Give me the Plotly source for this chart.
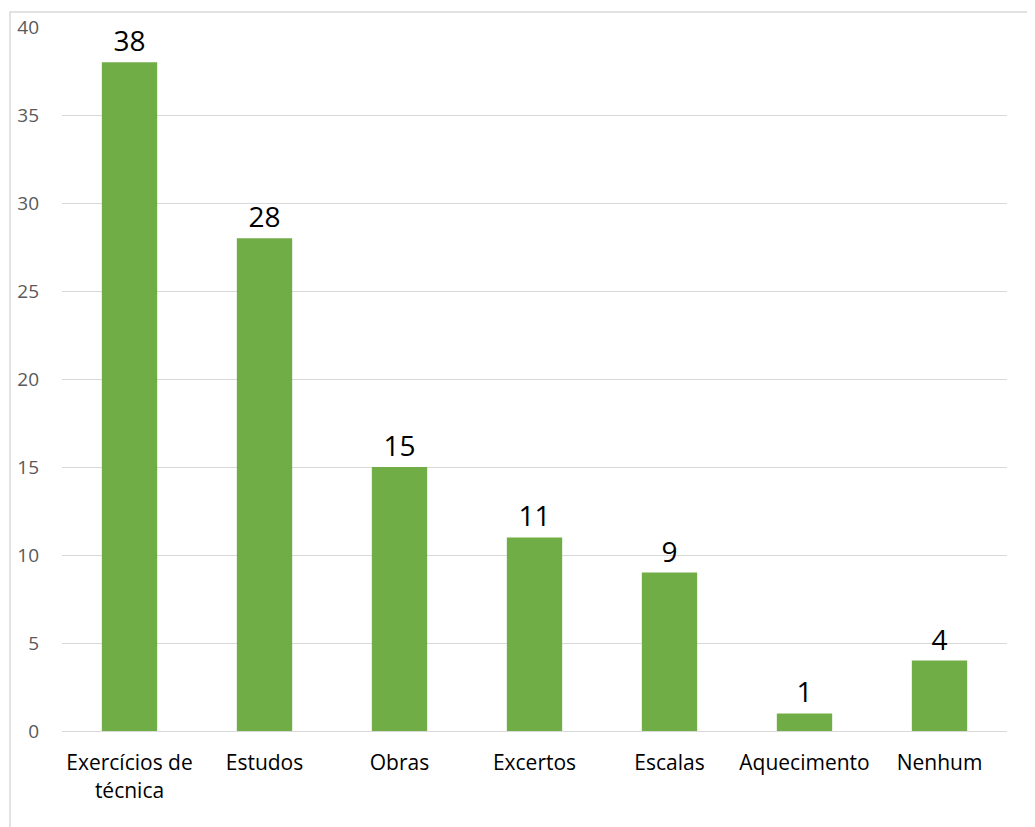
import plotly.graph_objects as go

categories = ["Exercícios de<br>técnica", "Estudos", "Obras", "Excertos", "Escalas", "Aquecimento", "Nenhum"]
values = [38, 28, 15, 11, 9, 1, 4]
y_ticks = [0, 5, 10, 15, 20, 25, 30, 35, 40]

FONT = "Open Sans, sans-serif"

fig = go.Figure(go.Bar(
    x=categories, y=values,
    marker=dict(color="#70AD47", line=dict(width=0)),
    text=[str(v) for v in values], textposition="outside",
    textfont=dict(size=28, color="#000000", family=FONT),
    cliponaxis=False,
))

fig.update_layout(
    width=1035, height=827,
    margin=dict(l=54, r=36, t=19, b=104, autoexpand=False),
    paper_bgcolor="white", plot_bgcolor="white",
    bargap=0.59,
    showlegend=False,
    font=dict(family=FONT),
    xaxis=dict(showgrid=False, showline=True, linecolor="#D9D9D9", linewidth=1, automargin=False,
               ticks="outside", ticklen=13, tickcolor="rgba(0,0,0,0)",
               tickfont=dict(size=21, color="#000000", family=FONT)),
    yaxis=dict(range=[0, 40], tickvals=y_ticks, showgrid=True, gridcolor="#D9D9D9", gridwidth=1,
               automargin=False,
               zeroline=False, showline=False, ticklabelstandoff=22,
               tickfont=dict(size=19, color="#595959", family=FONT)),
    shapes=[dict(type="rect", xref="paper", yref="paper",
                 x0=(10 - 62) / 945, x1=(1040 - 62) / 945,
                 y0=(731 - 830) / 704, y1=(731 - 12) / 704,
                 line=dict(color="#D9D9D9", width=1.5), layer="below")],
)

fig.write_html("out.html")
